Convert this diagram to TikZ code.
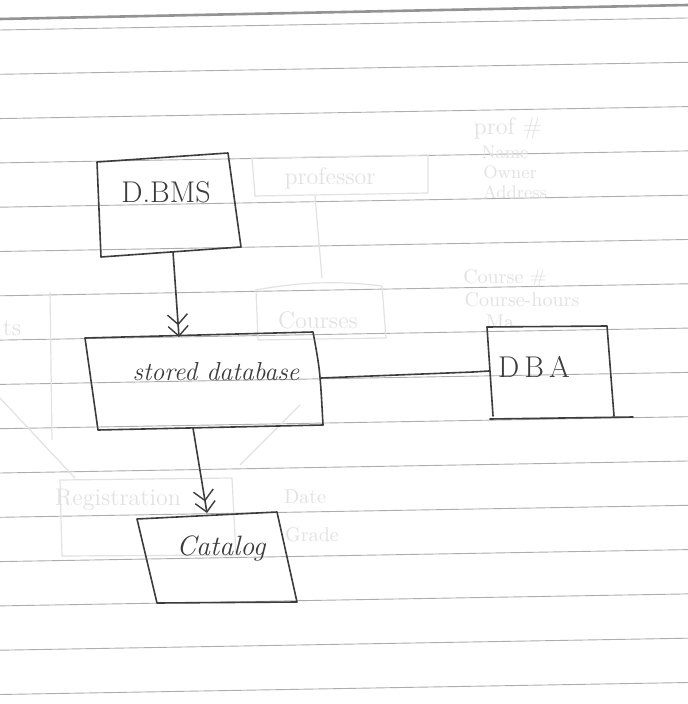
\documentclass[tikz,border=0pt]{standalone}
\usetikzlibrary{arrows.meta}
\definecolor{pencil}{HTML}{3C3C3C}
\definecolor{rule}{HTML}{ADADAD}
\definecolor{ghost}{HTML}{E2E2E2}
\begin{document}
\begin{tikzpicture}[x=0.5pt,y=-0.5pt,
  pencilline/.style={draw=pencil,line width=0.8pt,line join=round,line cap=round},
  ruleline/.style={draw=rule,line width=0.45pt},
  ghostline/.style={draw=ghost,line width=0.6pt},
  ghosttext/.style={text=ghost,font=\fontsize{12}{12}\selectfont,inner sep=0pt},
  lbl/.style={text=pencil,inner sep=0pt},
  dblarrow/.style={pencilline,-{Straight Barb[length=5pt,width=10pt,line width=0.7pt]Straight Barb[length=5pt,width=10pt,line width=0.7pt]}}]
\useasboundingbox[fill=white] (0,0) rectangle (688,704);
% paper rules
\draw[draw=gray!85,line width=1.3pt] (0,19) -- (688,5);
\foreach \i in {0,...,15}{
  \pgfmathsetmacro{\yl}{30+44.3*\i}
  \pgfmathsetmacro{\yr}{\yl-12}
  \draw[ruleline] (0,\yl) -- (688,\yr);
}
% faint show-through from the other page
\draw[ghostline] (252,158) -- (428,155) -- (428,193) -- (255,196) -- cycle;
\node[ghosttext] (g1) at (330,178) {professor};
\draw[ghostline] (315,196) -- (322,278);
\draw[ghostline] (256,290) .. controls (310,280) and (350,282) .. (382,286) -- (386,338) -- (258,340) -- cycle;
\node[ghosttext] (g2) at (318,320) {Courses};
\node[ghosttext] (g3) at (508,128) {prof \#};
\node[ghosttext,font=\fontsize{9}{9}\selectfont] (g4) at (505,152) {Name};
\node[ghosttext,font=\fontsize{9}{9}\selectfont] (g5) at (510,172) {Owner};
\node[ghosttext,font=\fontsize{9}{9}\selectfont] (g6) at (515,192) {Address};
\node[ghosttext,font=\fontsize{10}{10}\selectfont] (g7) at (505,278) {Course \#};
\node[ghosttext,font=\fontsize{10}{10}\selectfont] (g8) at (522,300) {Course-hours};
\node[ghosttext,font=\fontsize{10}{10}\selectfont] (g9) at (500,322) {Ma};
\node[ghosttext] (g10) at (12,328) {ts};
\draw[ghostline] (50,292) -- (52,440);
\draw[ghostline] (0,398) -- (75,478);
\draw[ghostline] (300,405) -- (240,465);
\draw[ghostline] (60,480) -- (232,478) -- (236,555) -- (62,556) -- cycle;
\node[ghosttext] (g11) at (118,500) {Registration};
\node[ghosttext,font=\fontsize{10}{10}\selectfont] (g12) at (305,497) {Date};
\node[ghosttext,font=\fontsize{10}{10}\selectfont] (g13) at (312,535) {Grade};
% DBMS box
\coordinate (d1) at (97,162); \coordinate (d2) at (228,153);
\coordinate (d3) at (241,247); \coordinate (d4) at (101,257);
\draw[pencilline] (d1) -- (d2) -- (d3) -- (d4) -- cycle;
\node[lbl,font=\fontsize{15}{15}\selectfont] (dbms) at (166,192) {D.BMS};
% stored database box
\coordinate (s1) at (85,338); \coordinate (s2) at (313,332);
\coordinate (s3) at (323,425); \coordinate (s4) at (98,430);
\draw[pencilline] (s1) -- (s2) .. controls (320,370) .. (s3) -- (s4) -- cycle;
\node[lbl,font=\fontsize{13}{13}\selectfont\itshape] (sdb) at (216,372) {stored database};
% DBA box
\coordinate (a1) at (487,327); \coordinate (a2) at (607,326);
\coordinate (a3) at (614,416); \coordinate (a4) at (493,416);
\draw[pencilline] (a1) -- (a2) -- (a3);
\draw[pencilline] (a1) -- (a4);
\coordinate (abl) at (490,419); \coordinate (abr) at (633,417);
\draw[pencilline] (abl) -- (abr);
\node[lbl,font=\fontsize{15}{15}\selectfont] (dba) at (534,367) {D\,B\,A};
% Catalog box
\coordinate (c1) at (137,519); \coordinate (c2) at (277,512);
\coordinate (c3) at (297,602); \coordinate (c4) at (157,603);
\draw[pencilline] (c1) -- (c2) -- (c3) -- (c4) -- cycle;
\node[lbl,font=\fontsize{14}{14}\selectfont\itshape] (cat) at (221,548) {Catalog};
% connectors
\coordinate (dbmsout) at (173,252); \coordinate (sdbin) at (179,337);
\draw[dblarrow] (dbmsout) -- (sdbin);
\coordinate (sdbright) at (321,378); \coordinate (dbain) at (489,371);
\draw[pencilline] (sdbright) -- (473,372) -- (dbain);
\coordinate (sdbout) at (193,428); \coordinate (catin) at (207,513);
\draw[dblarrow] (sdbout) -- (catin);
\end{tikzpicture}
\end{document}
